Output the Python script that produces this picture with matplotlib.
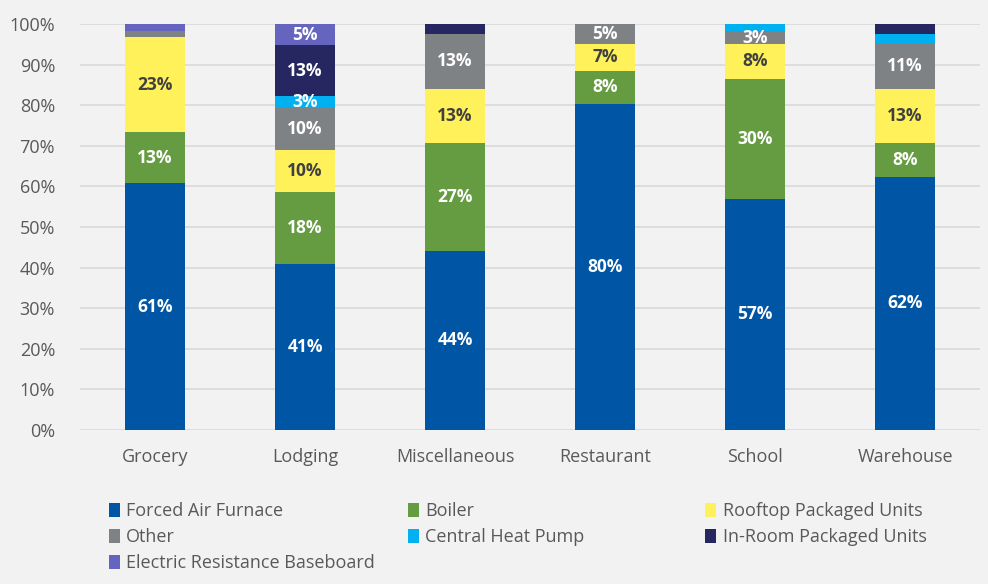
import numpy as np
import matplotlib.pyplot as plt
from matplotlib.patches import Patch

categories = ['Grocery', 'Lodging', 'Miscellaneous', 'Restaurant', 'School', 'Warehouse']
series = ['Forced Air Furnace', 'Boiler', 'Rooftop Packaged Units', 'Other',
          'Central Heat Pump', 'In-Room Packaged Units', 'Electric Resistance Baseboard']

# percent shares, one list per series, in category order
forced_air = [60.8, 41.0, 44.2, 80.4, 57.0, 62.4]
boiler = [12.6, 17.7, 26.6, 8.1, 29.6, 8.3]
rooftop = [23.4, 10.4, 13.3, 6.6, 8.4, 13.3]
other = [1.4, 10.3, 13.4, 4.9, 3.2, 11.4]
central_hp = [0.0, 2.8, 0.0, 0.0, 1.8, 2.1]
in_room = [0.0, 12.6, 2.5, 0.0, 0.0, 2.5]
baseboard = [1.8, 5.2, 0.0, 0.0, 0.0, 0.0]

values = [forced_air, boiler, rooftop, other, central_hp, in_room, baseboard]
colors = ['#0055A5', '#659B41', '#FFF159', '#7F8285', '#00B0F0', '#262661', '#6565C0']
label_colors = ['white', 'white', '#404040', 'white', 'white', 'white', 'white']

bg = '#F2F2F2'
plt.rcParams['font.family'] = ['Open Sans', 'DejaVu Sans']

fig = plt.figure(figsize=(9.88, 5.84), dpi=100, facecolor=bg)
ax = fig.add_axes([0.081, 0.2637, 0.911, 0.695])
ax.set_facecolor(bg)

x = np.arange(len(categories))
bottom = np.zeros(len(categories))
handles = []
for name, vals, c, lc in zip(series, values, colors, label_colors):
    vals = np.array(vals)
    ax.bar(x, vals, 0.4, bottom=bottom, color=c, label=name, zorder=3)
    for xi, v, b in zip(x, vals, bottom):
        if v >= 2.75:
            ax.text(xi, b + v / 2, '%d%%' % round(v), ha='center', va='center',
                    color=lc, fontsize=12.5, fontweight='bold', zorder=4)
    bottom += vals
    handles.append(Patch(facecolor=c, label=name))

ax.set_xlim(-0.5, len(categories) - 0.5)
ax.set_ylim(0, 100)
ax.set_yticks(np.arange(0, 101, 10))
ax.set_yticklabels(['%d%%' % t for t in range(0, 101, 10)])
ax.set_xticks(x)
ax.set_xticklabels(categories)
ax.tick_params(axis='both', length=0, labelsize=13, labelcolor='#595959')
ax.tick_params(axis='x', pad=13)
ax.tick_params(axis='y', pad=18)
ax.yaxis.grid(True, color='#D9D9D9', linewidth=1.2, zorder=0)
for s in ax.spines.values():
    s.set_visible(False)

# legend laid out in three columns like the original
cols = [[0, 3, 6], [1, 4], [2, 5]]
xpos = [0.110, 0.413, 0.714]
for col, xp in zip(cols, xpos):
    fig.legend(handles=[handles[i] for i in col], loc='upper left',
               bbox_to_anchor=(xp, 0.140), frameon=False, fontsize=13,
               labelcolor='#595959', handlelength=0.6, handleheight=0.85,
               handletextpad=0.35, labelspacing=0.45, borderpad=0, borderaxespad=0)

plt.savefig('out.png', dpi=100, facecolor=bg)
